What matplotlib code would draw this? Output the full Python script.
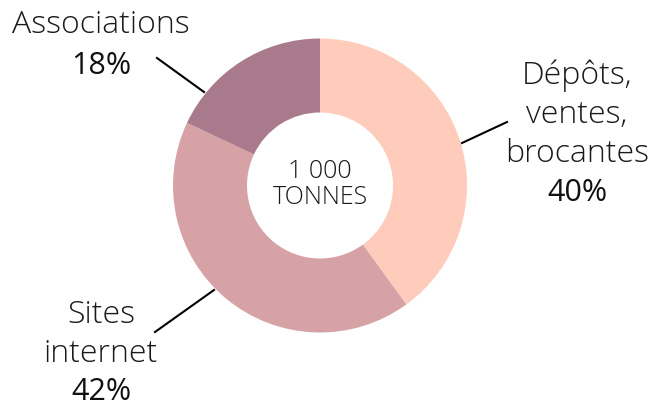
import matplotlib
matplotlib.use("Agg")
import matplotlib.pyplot as plt

categories = ["Dépôts,\nventes,\nbrocantes", "Sites\ninternet", "Associations"]
values = [40, 42, 18]
pct_labels = ["40%", "42%", "18%"]
colors = ["#FFCCBC", "#D6A2A6", "#A97A8B"]
center_lines = ["1 000", "TONNES"]

W, H = 650, 411
fig = plt.figure(figsize=(W / 100, H / 100), dpi=100)
ax = fig.add_axes([0, 0, 1, 1])

cx, cy = 320, H - 185.5
R = 147
ax.pie(values, colors=colors, startangle=90, counterclock=False,
       radius=R, center=(cx, cy), frame=True,
       wedgeprops=dict(width=R - 73, edgecolor="none"))
ax.set_xlim(0, W)
ax.set_ylim(0, H)
ax.set_aspect("equal")
ax.axis("off")

light = dict(family=["Open Sans", "DejaVu Sans"], color="#1a1a1a", fontweight=300)
reg = dict(family=["Open Sans", "DejaVu Sans"], color="#111111", fontweight="normal")

LS = 23
PS = 22

def Y(y):
    return H - y

# center text
ax.text(cx, Y(171), center_lines[0], ha="center", va="center", fontsize=18, **light)
ax.text(cx, Y(198), center_lines[1], ha="center", va="center", fontsize=18, **light)

# Dépôts
for i, line in enumerate(categories[0].split("\n")):
    ax.text(577, Y(76 + 39 * i), line, ha="center", va="center", fontsize=LS, **light)
ax.text(577, Y(193), pct_labels[0], ha="center", va="center", fontsize=PS, **reg)
ax.plot([462, 507], [Y(143), Y(122)], color="black", lw=1.5)

# Sites internet
for i, line in enumerate(categories[1].split("\n")):
    ax.text(101, Y(315 + 39 * i), line, ha="center", va="center", fontsize=LS, **light)
ax.text(101, Y(392), pct_labels[1], ha="center", va="center", fontsize=PS, **reg)
ax.plot([155, 214], [Y(332), Y(290)], color="black", lw=1.5)

# Associations
ax.text(101, Y(25), categories[2], ha="center", va="center", fontsize=LS, **light)
ax.text(101, Y(66), pct_labels[2], ha="center", va="center", fontsize=PS, **reg)
ax.plot([157, 204], [Y(58), Y(92)], color="black", lw=1.5)

fig.savefig("out.png", dpi=100)
